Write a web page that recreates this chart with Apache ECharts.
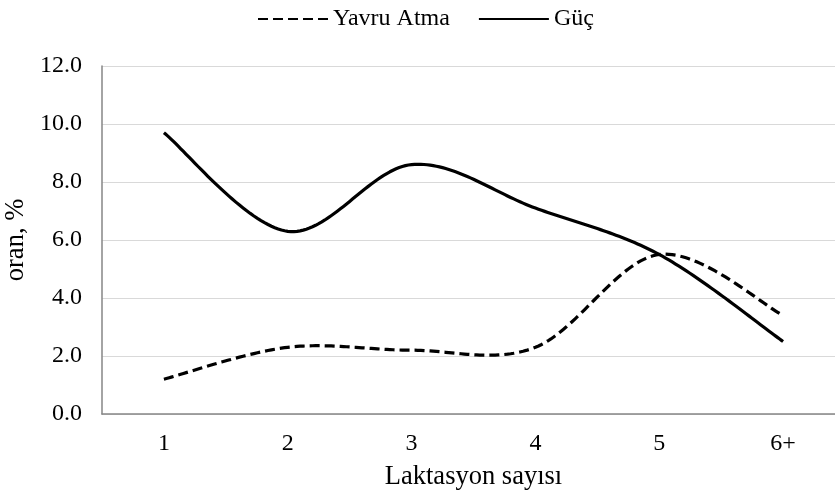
<!DOCTYPE html>
<html>
<head>
<meta charset="utf-8">
<script src="https://cdn.jsdelivr.net/npm/echarts@6/dist/echarts.min.js"></script>
<style>html,body{margin:0;padding:0;background:#fff}#c{width:835px;height:500px}</style>
</head>
<body>
<div id="c"></div>
<script>
const categories = ['1', '2', '3', '4', '5', '6+'];
const yavruAtma = [1.2, 2.3, 2.2, 2.3, 5.5, 3.4];
const guc = [9.7, 6.3, 8.6, 7.1, 5.5, 2.5];
const yTicks = [0, 2, 4, 6, 8, 10, 12];

const FONT = "'Liberation Serif', 'Times New Roman', serif";

// Excel-style smoothed line: cubic Bezier through points, arms = (next - prev)/6,
// limited to half the segment length; sampled into a polyline.
function smoothPoints(pts) {
  const out = [];
  const n = pts.length;
  const dist = (a, b) => Math.hypot(a[0] - b[0], a[1] - b[1]);
  for (let i = 0; i < n - 1; i++) {
    const p0 = pts[Math.max(i - 1, 0)], p1 = pts[i], p2 = pts[i + 1], p3 = pts[Math.min(i + 2, n - 1)];
    const d12 = dist(p1, p2);
    let t1 = [(p2[0] - p0[0]) / 6, (p2[1] - p0[1]) / 6];
    let t2 = [(p3[0] - p1[0]) / 6, (p3[1] - p1[1]) / 6];
    const l1 = Math.hypot(t1[0], t1[1]), l2 = Math.hypot(t2[0], t2[1]);
    if (l1 > d12 / 2) { t1 = [t1[0] * d12 / 2 / l1, t1[1] * d12 / 2 / l1]; }
    if (l2 > d12 / 2) { t2 = [t2[0] * d12 / 2 / l2, t2[1] * d12 / 2 / l2]; }
    const c1 = [p1[0] + t1[0], p1[1] + t1[1]];
    const c2 = [p2[0] - t2[0], p2[1] - t2[1]];
    const steps = 40;
    for (let s = (i === 0 ? 0 : 1); s <= steps; s++) {
      const t = s / steps, u = 1 - t;
      out.push([
        u*u*u*p1[0] + 3*u*u*t*c1[0] + 3*u*t*t*c2[0] + t*t*t*p2[0],
        u*u*u*p1[1] + 3*u*u*t*c1[1] + 3*u*t*t*c2[1] + t*t*t*p2[1]
      ]);
    }
  }
  return out;
}

function makeRender(values, dash) {
  return function (params, api) {
    if (params.dataIndex !== 0) return null;
    const pts = values.map((v, i) => api.coord([i, v]));
    return {
      type: 'polyline',
      silent: true,
      shape: {points: smoothPoints(pts)},
      style: {stroke: '#000', lineWidth: 3.2, fill: null, lineDash: dash || null, lineCap: 'butt', lineJoin: 'round'}
    };
  };
}

const chart = echarts.init(document.getElementById('c'), null, {renderer: 'canvas'});
chart.setOption({
  animation: false,
  backgroundColor: '#ffffff',
  textStyle: {fontFamily: FONT, color: '#000'},
  legend: {
    top: 2,
    left: 252,
    itemWidth: 70,
    itemHeight: 14,
    itemGap: 28,
    itemStyle: {opacity: 0},
    textStyle: {fontFamily: FONT, fontSize: 24, color: '#000'},
    data: ['Yavru Atma', 'Güç']
  },
  grid: {left: 102, width: 743, top: 66, bottom: 86, containLabel: false, outerBoundsMode: 'none'},
  xAxis: {
    type: 'category',
    data: categories,
    boundaryGap: true,
    name: 'Laktasyon sayısı',
    nameLocation: 'middle',
    nameGap: 50,
    nameTextStyle: {fontFamily: FONT, fontSize: 26.5, color: '#000'},
    axisLine: {lineStyle: {color: '#868686', width: 1.5}},
    axisTick: {show: false},
    axisLabel: {fontFamily: FONT, fontSize: 24, color: '#000', margin: 18}
  },
  yAxis: {
    type: 'value',
    min: yTicks[0],
    max: yTicks[yTicks.length - 1],
    interval: 2,
    name: 'oran, %',
    nameLocation: 'middle',
    nameRotate: 90,
    nameGap: 72,
    nameTextStyle: {fontFamily: FONT, fontSize: 26.5, color: '#000'},
    axisLine: {show: true, lineStyle: {color: '#868686', width: 1.5}},
    axisTick: {show: false},
    splitLine: {lineStyle: {color: '#d9d9d9', width: 1.2}},
    axisLabel: {fontFamily: FONT, fontSize: 24, color: '#000', margin: 20,
      formatter: v => v.toFixed(1)}
  },
  series: [
    {
      name: 'Yavru Atma', type: 'line', data: [], symbol: 'none',
      lineStyle: {color: '#000', width: 3.2, type: [10, 5]}, itemStyle: {color: '#000'}
    },
    {
      name: 'Güç', type: 'line', data: [], symbol: 'none',
      lineStyle: {color: '#000', width: 3.2}, itemStyle: {color: '#000'}
    },
    {
      name: 'Yavru Atma', type: 'custom', clip: false,
      data: yavruAtma.map((v, i) => [i, v]),
      encode: {x: 0, y: 1},
      renderItem: makeRender(yavruAtma, [10, 5])
    },
    {
      name: 'Güç', type: 'custom', clip: false,
      data: guc.map((v, i) => [i, v]),
      encode: {x: 0, y: 1},
      renderItem: makeRender(guc, null)
    }
  ]
});
</script>
</body>
</html>
